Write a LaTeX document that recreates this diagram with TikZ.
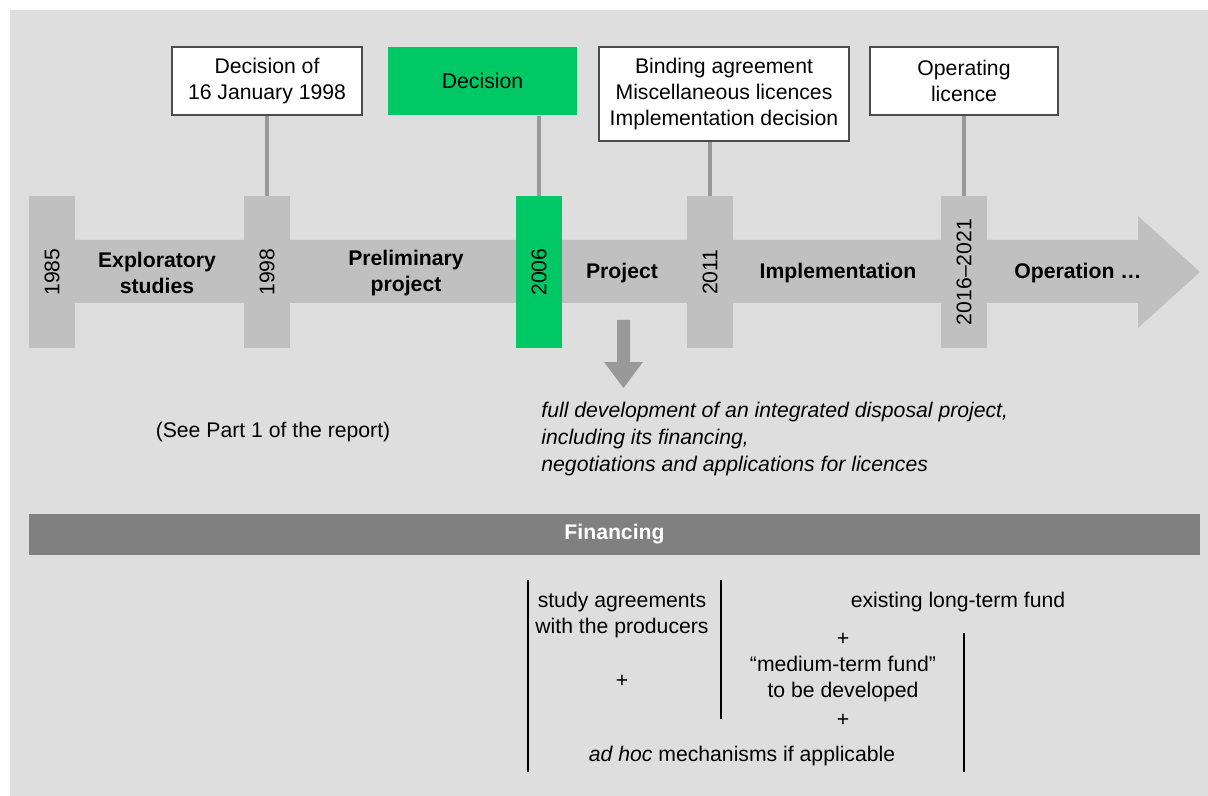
\documentclass[tikz,border=0pt]{standalone}
\usepackage{fontspec}
\setmainfont{Liberation Sans}
\usetikzlibrary{arrows}
\definecolor{bggray}{HTML}{DEDEDE}
\definecolor{bargray}{HTML}{C0C0C0}
\definecolor{stemgray}{HTML}{999999}
\definecolor{fingray}{HTML}{808080}
\definecolor{decgreen}{HTML}{00C864}

\begin{document}
\begin{tikzpicture}[x = 0.5pt, y = -0.5pt, font = \fontsize{10.6}{13}\selectfont]
\tikzstyle{YearStyle}=[
fill = bargray,
minimum width = 23pt,
minimum height = 76pt,
inner sep = 0pt]
\tikzstyle{BoxStyle}=[
draw = black!70,
fill = white,
line width = 0.6pt,
minimum height = 34pt,
inner sep = 0pt,
align = center]
\tikzstyle{StemStyle}=[draw = stemgray, line width = 1.6pt]
\tikzstyle{PhaseStyle}=[font = \fontsize{10.6}{13}\selectfont\bfseries, align = center]
\tikzstyle{RuleStyle}=[line width = 1pt]
\useasboundingbox (0,0) rectangle (1208,796);
\fill[bggray] (10,10) rectangle (1208,796);
\fill[bargray] (29,240) -- (1138,240) -- (1138,216) -- (1200,272) -- (1138,328) -- (1138,303) -- (29,303) -- cycle;
\node[YearStyle] (y0) at (52,272) {\rotatebox{90}{1985}};
\node[YearStyle] (y1) at (267,272) {\rotatebox{90}{1998}};
\node[YearStyle, fill = decgreen] (y2) at (539,272) {\rotatebox{90}{2006}};
\node[YearStyle] (y3) at (710,272) {\rotatebox{90}{2011}};
\node[YearStyle] (y4) at (964,272) {\rotatebox{90}{2016--2021}};
\node[BoxStyle, minimum width = 95pt] (b0) at (267,81) {Decision of\\16 January 1998};
\node[BoxStyle, minimum width = 94.5pt, fill = decgreen, draw = none] (b1) at (482.5,81) {Decision};
\node[BoxStyle, minimum width = 125pt, minimum height = 47pt] (b2) at (724,94) {Binding agreement\\Miscellaneous licences\\Implementation decision};
\node[BoxStyle, minimum width = 94pt] (b3) at (964,81) {Operating\\licence};
\foreach \b/\y in {b0/y1, b1/y2, b2/y3, b3/y4}
\draw[StemStyle] (\y |- \b.south) -- (\y.north);
\node[PhaseStyle] (p0) at (157,273) {Exploratory\\studies};
\node[PhaseStyle] (p1) at (406,273) {Preliminary\\project};
\node[PhaseStyle] (p2) at (622,273) {Project};
\node[PhaseStyle] (p3) at (838,273) {Implementation};
\node[PhaseStyle] (p4) at (1078,273) {Operation …};
\fill[stemgray] (617,320) -- (630,320) -- (630,362) -- (643,362) -- (623.5,388) -- (604,362) -- (617,362) -- cycle;
\node[anchor = west, align = left, inner sep = 0pt, font = \fontsize{10.6}{13.5}\selectfont\itshape] (n0) at (541,439) {full development of an integrated disposal project,\\including its financing,\\negotiations and applications for licences};
\node (n1) at (273,432) {(See Part 1 of the report)};
\node[fill = fingray, minimum width = 585.5pt, minimum height = 20.5pt, inner sep = 0pt, text = white, font = \fontsize{10.6}{13}\selectfont\bfseries] (fin) at (614.5,534.5) {Financing};
\draw[RuleStyle] (528,580) -- (528,772);
\draw[RuleStyle] (721,580) -- (721,719);
\draw[RuleStyle] (964,633) -- (964,772);
\node[align = center] (f0) at (622,615) {study agreements\\with the producers};
\node (f1) at (622,681) {+};
\node (f2) at (958,602) {existing long-term fund};
\node (f3) at (843,639) {+};
\node[align = center] (f4) at (843,679) {“medium-term fund”\\to be developed};
\node (f5) at (843,720) {+};
\node (f6) at (742,756) {\textit{ad hoc} mechanisms if applicable};
\end{tikzpicture}
\end{document}
